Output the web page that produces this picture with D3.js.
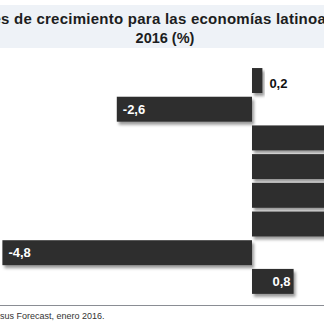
<!DOCTYPE html>
<html>
<head>
<meta charset="utf-8">
<script src="https://cdn.jsdelivr.net/npm/d3@7"></script>
<style>
  body { margin: 0; background: #fff; }
  svg { display: block; font-family: "Liberation Sans", Arial, Helvetica, sans-serif; }
</style>
</head>
<body>
<svg width="324" height="324"></svg>
<script>
// growth forecasts 2016, %
var countries = ["Argentina", "Brasil", "Chile", "Colombia", "México", "Perú", "Venezuela", "América Latina"];
var growth = [0.2, -2.6, 2.1, 2.7, 2.8, 3.3, -4.8, 0.8];
var labels = ["0,2", "-2,6", "2,1", "2,7", "2,8", "3,3", "-4,8", "0,8"];

var titleLine1 = "Proyecciones de crecimiento para las economías latinoamericanas en";
var titleLine2 = "2016 (%)";
var source = "Fuente: Consensus Forecast, enero 2016.";

var svg = d3.select("svg"),
    width = +svg.attr("width"),
    height = +svg.attr("height");

var data = countries.map((c, i) => ({ name: c, value: growth[i], label: labels[i] }));

// drop shadow under the bars
var defs = svg.append("defs");
var shadow = defs.append("filter")
    .attr("id", "shadow")
    .attr("x", "-10%").attr("y", "-20%")
    .attr("width", "130%").attr("height", "160%");
shadow.append("feDropShadow")
    .attr("dx", 2)
    .attr("dy", 3)
    .attr("stdDeviation", 1.8)
    .attr("flood-color", "#000")
    .attr("flood-opacity", 0.4);

// title band
svg.append("rect")
    .attr("x", 0)
    .attr("y", 5)
    .attr("width", width)
    .attr("height", 43)
    .attr("fill", "#eef2f7");

// helper to measure a string in a given style
function textWidth(str, size, weight, spacing) {
    var t = svg.append("text")
        .style("font-size", size + "px")
        .style("font-weight", weight)
        .style("letter-spacing", (spacing || 0) + "px")
        .text(str);
    var w = t.node().getComputedTextLength();
    t.remove();
    return w;
}

// first title line runs wider than the panel
var t1 = svg.append("text")
    .attr("y", 24)
    .style("font-size", "15px")
    .style("letter-spacing", "0.25px")
    .style("font-weight", "bold")
    .attr("fill", "#1c1d21")
    .text(titleLine1);
t1.attr("x", 1 - textWidth("Proyeccione", 15, "bold", 0.25));

svg.append("text")
    .attr("x", 165)
    .attr("y", 43)
    .attr("text-anchor", "middle")
    .style("font-size", "14.5px")
    .style("font-weight", "bold")
    .attr("fill", "#1c1d21")
    .text(titleLine2);

var x = d3.scaleLinear()
    .domain([-5, 4])
    .range([252 - 5 * 52, 252 + 4 * 52]);

var y = d3.scaleBand()
    .domain(countries)
    .range([64.3, 297.6])
    .padding(0.13);

var bars = svg.append("g").attr("class", "bars");

bars.selectAll("rect")
    .data(data)
    .enter().append("rect")
    .attr("x", (d) => x(Math.min(0, d.value)))
    .attr("y", (d) => y(d.name))
    .attr("width", (d) => Math.abs(x(d.value) - x(0)))
    .attr("height", y.bandwidth())
    .attr("fill", "#2f2f2f")
    .attr("filter", "url(#shadow)");

// value labels: inside the bar in white, outside in black when the bar is too short
function isShort(d) { return d.value >= 0 && Math.abs(x(d.value) - x(0)) < 30; }

bars.selectAll("text")
    .data(data)
    .enter().append("text")
    .attr("x", function(d) {
        if (d.value < 0) return x(d.value) + 6;
        if (isShort(d)) return x(d.value) + 7;
        return x(d.value) - 3;
    })
    .attr("y", (d) => y(d.name) + y.bandwidth() / 2 + (isShort(d) ? 3 : 0))
    .attr("dy", "0.36em")
    .attr("text-anchor", (d) => (d.value >= 0 && !isShort(d)) ? "end" : "start")
    .style("font-size", "13px")
    .style("font-weight", "bold")
    .attr("fill", (d) => isShort(d) ? "#111" : "#fff")
    .text((d) => d.label);

// country names sit to the right of the bars
svg.append("g")
    .selectAll("text")
    .data(data)
    .enter().append("text")
    .attr("x", x(4) + 12)
    .attr("y", (d) => y(d.name) + y.bandwidth() / 2)
    .attr("dy", "0.36em")
    .style("font-size", "12px")
    .attr("fill", "#222")
    .text((d) => d.name);

// source rule and note
svg.append("line")
    .attr("x1", 0)
    .attr("x2", width)
    .attr("y1", 305.5)
    .attr("y2", 305.5)
    .attr("stroke", "#8a8d94")
    .attr("stroke-width", 1.2);

var src = svg.append("text")
    .attr("y", 319)
    .style("font-size", "9px")
    .attr("fill", "#333")
    .text(source);
src.attr("x", 0 - textWidth("Fuente: Consen", 9, "normal"));
</script>
</body>
</html>
